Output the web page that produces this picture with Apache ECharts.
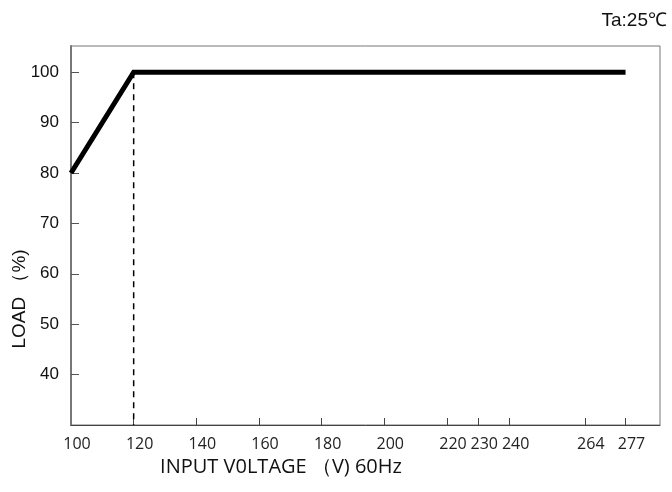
<!DOCTYPE html>
<html>
<head>
<meta charset="utf-8">
<script src="https://cdn.jsdelivr.net/npm/echarts@6/dist/echarts.min.js"></script>
<style>
html,body{margin:0;padding:0;background:#fff;}
#c{width:672px;height:492px;}
</style>
</head>
<body>
<div id="c"></div>
<script>
const xTickLabels = [100, 120, 140, 160, 180, 200, 220, 230, 240, 264, 277];
const yTickLabels = [40, 50, 60, 70, 80, 90, 100];
const voltage = [100, 120, 277];
const load = [80, 100, 100];
const dashVoltage = [120, 120];
const dashLoad = [100, 30];
const xTitle = 'INPUT V0LTAGE （V) 60Hz';
const yTitle = 'LOAD （%)';
const tempNote = 'Ta:25℃';

const chart = echarts.init(document.getElementById('c'));
chart.setOption({
  animation: false,
  backgroundColor: '#fff',
  grid: {left: 71, right: 12, top: 46, bottom: 67, show: true, borderColor: '#777', borderWidth: 1, backgroundColor: 'transparent'},
  title: {
    text: tempNote, right: 0, top: 6,
    textStyle: {fontFamily: 'Liberation Sans', fontSize: 19, fontWeight: 'normal', color: '#111'}
  },
  xAxis: {
    type: 'value', min: 100, max: 288,
    axisLine: {show: true, lineStyle: {color: '#444', width: 1}},
    axisTick: {show: true, inside: true, length: 7, customValues: xTickLabels.slice(1), lineStyle: {color: '#444', width: 1}},
    axisLabel: {customValues: xTickLabels, margin: 11, padding: [0, 0, 0, 12], fontFamily: 'Open Sans', fontSize: 16, color: '#222'},
    splitLine: {show: false}
  },
  yAxis: {
    type: 'value', min: 30, max: 105.2,
    axisLine: {show: true, lineStyle: {color: '#777', width: 2}},
    axisTick: {show: true, inside: true, length: 8, customValues: yTickLabels, lineStyle: {color: '#555', width: 1}},
    axisLabel: {customValues: yTickLabels, margin: 12, fontFamily: 'Liberation Sans', fontSize: 17, color: '#111'},
    splitLine: {show: false}
  },
  graphic: [
    {type: 'text', x: 20, y: 299, rotation: Math.PI / 2,
      style: {text: yTitle, fontFamily: 'Liberation Sans', fontSize: 19, fill: '#111', textAlign: 'center', textVerticalAlign: 'middle'}},
    {type: 'text', x: 281, y: 467,
      style: {text: xTitle, fontFamily: 'Open Sans', fontSize: 20, fontWeight: 500, fill: '#111', textAlign: 'center', textVerticalAlign: 'middle'}}
  ],
  series: [
    {type: 'line', data: dashVoltage.map((v, i) => [v, dashLoad[i]]), symbol: 'none', z: 2,
      lineStyle: {color: '#000', width: 1.5, type: [6, 5]}},
    {type: 'line', data: voltage.map((v, i) => [v, load[i]]), symbol: 'none', z: 3,
      lineStyle: {color: '#000', width: 5, join: 'miter', cap: 'butt'}}
  ]
});
</script>
</body>
</html>
